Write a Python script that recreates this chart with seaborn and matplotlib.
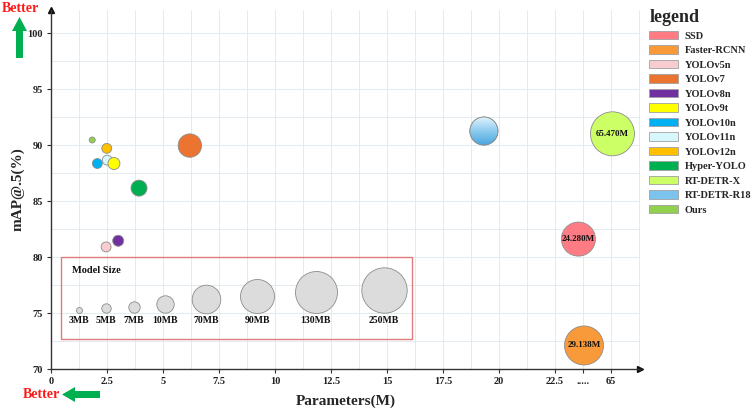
import numpy as np
import pandas as pd
import seaborn as sns
import matplotlib
matplotlib.use("Agg")
from matplotlib import pyplot as plt
from matplotlib.patches import Rectangle, Polygon, Ellipse, Patch
from matplotlib.colors import LinearSegmentedColormap
from matplotlib.ticker import MultipleLocator

# data
models = ["SSD", "Faster-RCNN", "YOLOv5n", "YOLOv7", "YOLOv8n", "YOLOv9t", "YOLOv10n",
          "YOLOv11n", "YOLOv12n", "Hyper-YOLO", "RT-DETR-X", "RT-DETR-R18", "Ours"]
# position on the broken x axis ("....." sits at 23.75, "65" at 25)
params_pos = [23.55, 23.8, 2.46, 6.2, 3.0, 2.81, 2.07, 2.51, 2.49, 3.93, 25.07, 19.33, 1.84]
map50 = [81.6, 72.1, 80.9, 89.95, 81.45, 88.35, 88.35, 88.65, 89.7, 86.15, 91.0, 91.25, 90.45]
size_mb = [90, 115, 5.5, 42, 6.6, 7.3, 5.5, 5.5, 5.5, 9.3, 200, 67, 3]
bubble_text = {"SSD": "24.280M", "Faster-RCNN": "29.138M", "RT-DETR-X": "65.470M"}
colors = ["#ff7c85", "#f99a3a", "#f9cdd0", "#ec7431", "#7030a0", "#ffff00", "#00b0f0",
          "#d6f7fb", "#ffc000", "#00b050", "#ccff66", "#7cc4ee", "#92d050"]

key_mb = [3, 5, 7, 10, 70, 90, 130, 250]
key_labels = ["3MB", "5MB", "7MB", "10MB", "70MB", "90MB", "130MB", "250MB"]
x_ticks = [0, 2.5, 5, 7.5, 10, 12.5, 15, 17.5, 20, 22.5, 23.75, 25]
x_tick_labels = ["0", "2.5", "5", "7.5", "10", "12.5", "15", "17.5", "20", "22.5", ".....", "65"]

# layout / style
key_r_px = [3, 4.7, 5.7, 8.7, 14.3, 17, 21, 22.7]
key_x = [1.25, 2.46, 3.72, 5.1, 6.93, 9.2, 11.82, 14.87]
W, H = 751, 412

sns.set_style("white")
plt.rcParams["font.family"] = ["Liberation Serif", "DejaVu Serif"]
plt.rcParams["font.weight"] = "bold"

fig = plt.figure(figsize=(W / 100, H / 100), dpi=100)
ax = fig.add_axes([51 / W, 43 / H, 589 / W, 359.5 / H])
ax.set_xlim(0, 26.3)
ax.set_ylim(70, 102.1)

def px_fig(x, y):
    return (x / W, 1 - y / H)

def r_to_s(r):
    return (2 * r * 0.72) ** 2

df = pd.DataFrame({"model": models, "x": params_pos, "y": map50, "mb": size_mb})
df["r"] = np.interp(df.mb, key_mb, key_r_px)
df = df.sort_values("model", key=lambda s: s != "YOLOv11n")
palette = dict(zip(models, colors))

sns.scatterplot(ax=ax, data=df, x="x", y="y", hue="model", palette=palette,
                s=[r_to_s(r) for r in df.r], edgecolor="#8c8c8c", linewidth=0.6,
                legend=False, zorder=3, clip_on=False)

# gradient fill for RT-DETR-R18
sx = ax.transData.transform((1, 0))[0] - ax.transData.transform((0, 0))[0]
sy = ax.transData.transform((0, 1))[1] - ax.transData.transform((0, 0))[1]
row = df[df.model == "RT-DETR-R18"].iloc[0]
w, h = 2 * row.r / sx, 2 * row.r / sy
ell = Ellipse((row.x, row.y), w, h, facecolor="none", edgecolor="#8c8c8c", lw=0.6, zorder=5)
ax.add_patch(ell)
cmap = LinearSegmentedColormap.from_list("blu", ["#e6f5fd", "#8fcdf0", "#4ba6de"])
im = ax.imshow(np.linspace(0, 1, 100).reshape(-1, 1), cmap=cmap, aspect="auto",
               extent=(row.x - w / 2, row.x + w / 2, row.y - h / 2, row.y + h / 2), zorder=4)
im.set_clip_path(ell)

for m, txt in bubble_text.items():
    r = df[df.model == m].iloc[0]
    ax.text(r.x, r.y, txt, ha="center", va="center", fontsize=6.5, color="#111",
            fontweight="bold", zorder=6)

# model size key
ax.add_patch(Rectangle((0.45, 72.7), 15.65, 7.3, facecolor="none", edgecolor="#e07b7b", lw=1, zorder=2))
ax.text(2.04, 78.78, "Model Size", ha="center", va="center", fontsize=7.5, color="#111", fontweight="bold")
for kx, r, lab in zip(key_x, key_r_px, key_labels):
    ax.scatter([kx], [75 + r / sy], s=r_to_s(r), color="#dcdcdc", edgecolor="#8c8c8c", lw=0.6, zorder=3)
    ax.text(kx, 74.3, lab, ha="center", va="center", fontsize=7, color="#111", fontweight="bold")

ax.set_xlim(0, 26.3)
ax.set_ylim(70, 102.1)

# axes styling
ax.set_xticks(x_ticks)
ax.set_xticklabels(x_tick_labels)
ax.set_yticks(np.arange(70, 101, 5))
ax.xaxis.set_minor_locator(MultipleLocator(1.25))
ax.yaxis.set_minor_locator(MultipleLocator(2.5))
ax.grid(which="both", color="#dde8ee", lw=0.6)
ax.set_axisbelow(True)
ax.tick_params(axis="both", which="major", labelsize=7.5, length=3, width=0.8, color="#333",
               labelcolor="#222", direction="out", pad=3, bottom=True, left=True)
ax.tick_params(which="minor", length=0)
for t in ax.get_xticklabels() + ax.get_yticklabels():
    t.set_fontweight("bold")
for sp in ["top", "right"]:
    ax.spines[sp].set_visible(False)
for sp in ["left", "bottom"]:
    ax.spines[sp].set_color("#333")
    ax.spines[sp].set_linewidth(1)
ax.plot(0, 1, marker="^", color="#111", ms=5, transform=ax.transAxes, clip_on=False)
ax.plot(1, 0, marker=">", color="#111", ms=5, transform=ax.transAxes, clip_on=False)
ax.set_xlabel("Parameters(M)", fontsize=11, fontweight="bold", labelpad=6)
ax.set_ylabel("mAP@.5(%)", fontsize=11, fontweight="bold", labelpad=2)

# "Better" annotations
fig.text(*px_fig(20, 8), "Better", color="#ff1a1a", fontsize=10, fontweight="bold", ha="center", va="center")
fig.text(*px_fig(41, 394), "Better", color="#ff1a1a", fontsize=10, fontweight="bold", ha="center", va="center")
green = "#00b050"
up = [(16, 58), (23, 58), (23, 31), (27, 31), (19.5, 17), (12, 31), (16, 31)]
left = [(100, 391), (100, 398), (75, 398), (75, 402), (62, 394.5), (75, 387), (75, 391)]
for pts in (up, left):
    fig.add_artist(Polygon([px_fig(*p) for p in pts], closed=True, facecolor=green,
                           edgecolor="none", transform=fig.transFigure))

# legend
handles = [Patch(facecolor=c, edgecolor="#a0a0a0", lw=0.6, label=m) for m, c in zip(models, colors)]
leg = fig.legend(handles=handles, loc="upper left", bbox_to_anchor=px_fig(645, 5), frameon=False,
                 title="legend", title_fontproperties={"weight": "bold", "size": 13},
                 prop={"weight": "bold", "size": 7.5}, handlelength=2.8, handleheight=0.9,
                 labelspacing=0.44, handletextpad=0.6, alignment="left", borderaxespad=0)

fig.savefig("out.png", dpi=100)
